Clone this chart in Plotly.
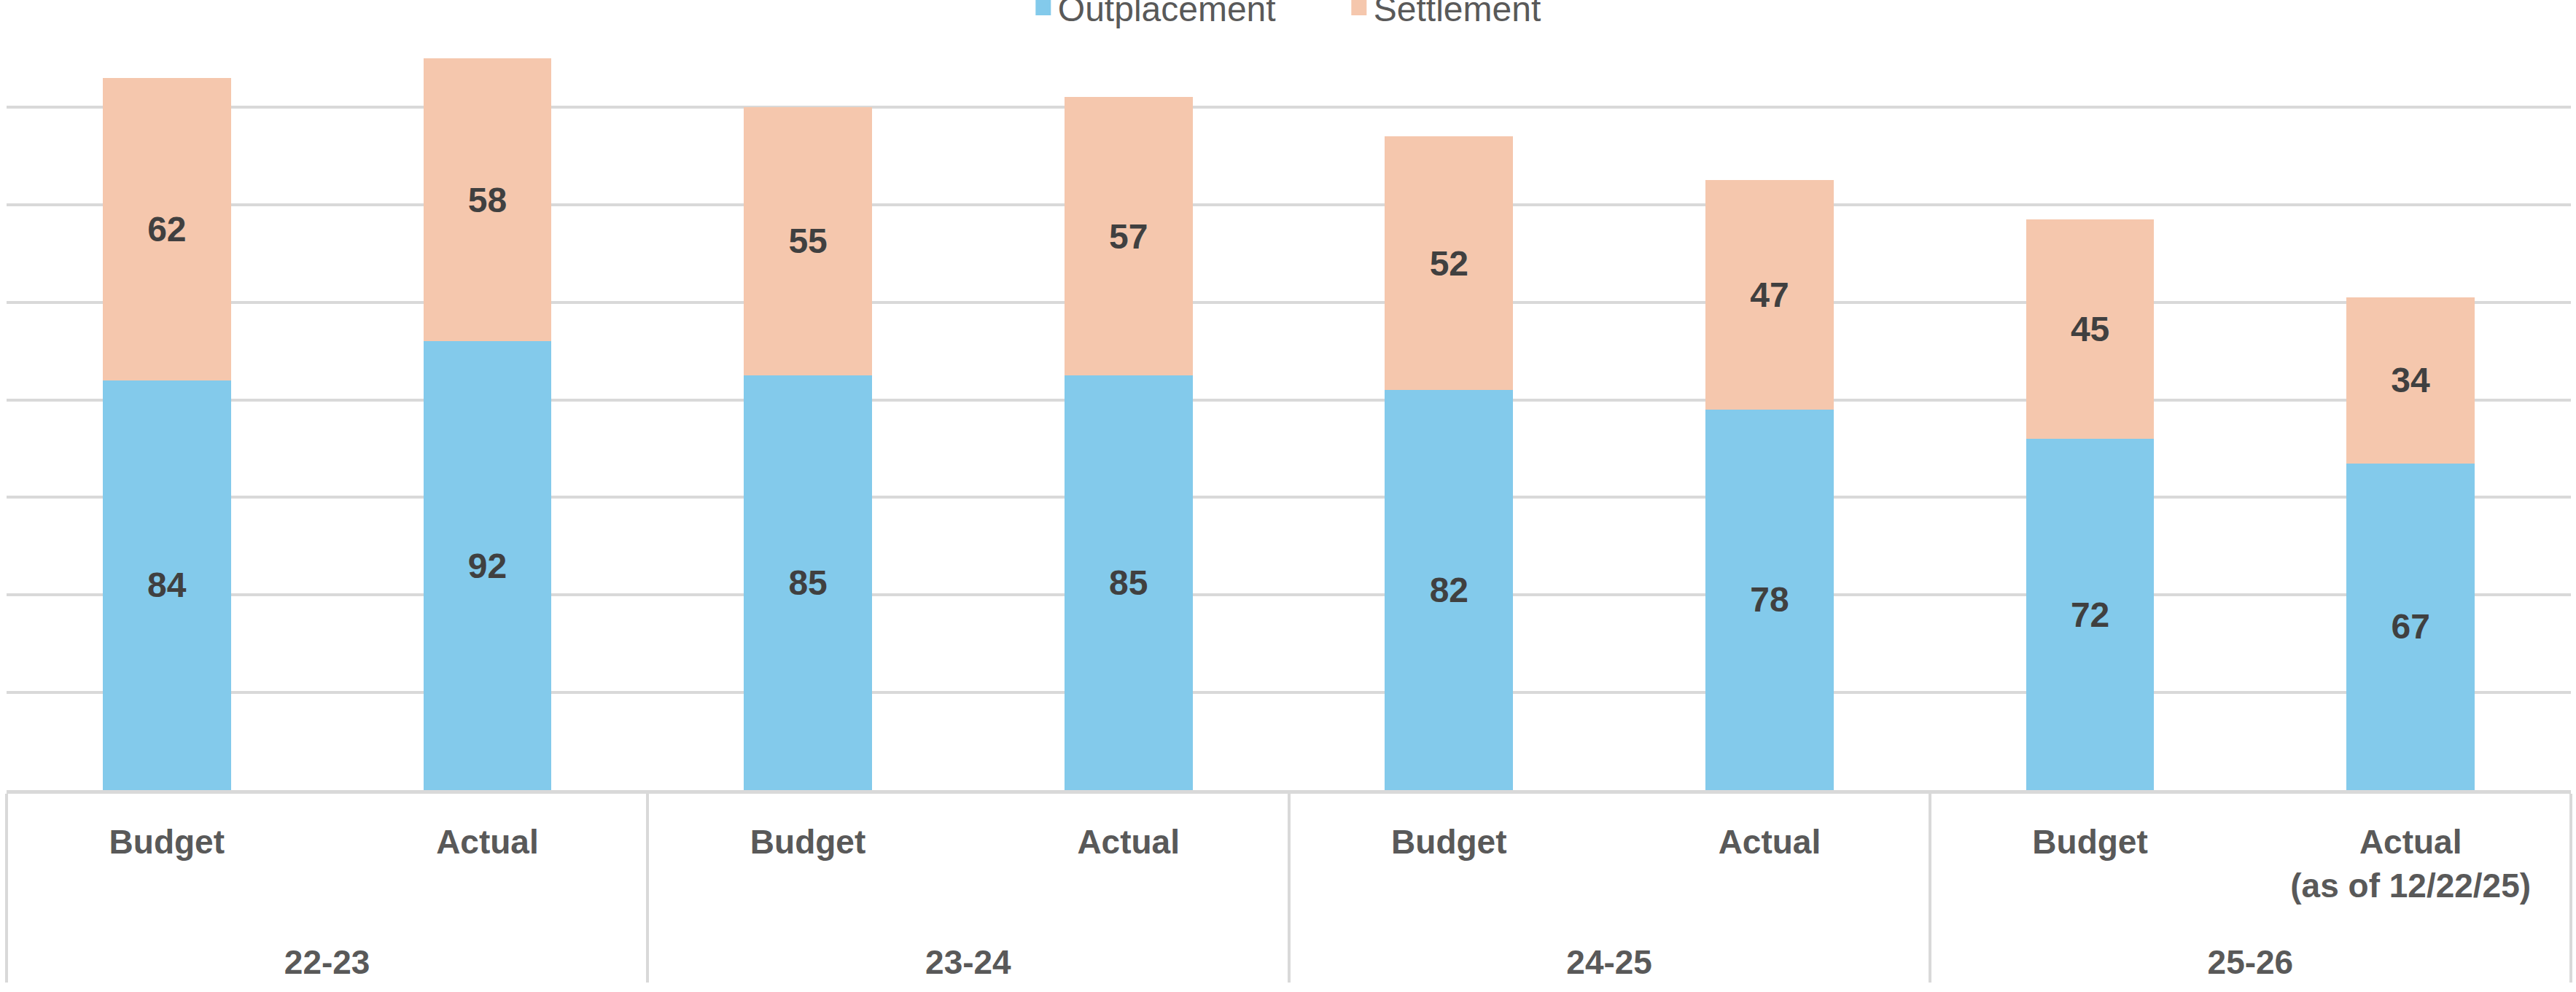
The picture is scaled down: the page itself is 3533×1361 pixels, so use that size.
import plotly.graph_objects as go

# ---- data ----
years = ["22-23", "22-23", "23-24", "23-24", "24-25", "24-25", "25-26", "25-26"]
kinds = ["Budget", "Actual", "Budget", "Actual", "Budget", "Actual", "Budget",
         "Actual<br>(as of 12/22/25)<br><span style='font-size:130px'>\u00a0</span>"]
outplacement = [84, 92, 85, 85, 82, 78, 72, 67]
settlement = [62, 58, 55, 57, 52, 47, 45, 34]
series_names = ["Outplacement", "Settlement"]
colors = ["#83CAEB", "#F5C7AD"]

FONT = "Liberation Sans, Arial, sans-serif"

fig = go.Figure()
for name, vals, col in zip(series_names, [outplacement, settlement], colors):
    fig.add_trace(go.Bar(
        x=[years, kinds], y=vals, name=name, marker=dict(color=col, line=dict(width=0)),
        texttemplate="%{y}", textposition="inside", insidetextanchor="middle",
        textangle=0,
        textfont=dict(family=FONT, size=48, color="#404040", weight="bold"),
        showlegend=False,
    ))
# legend-only entries (larger square swatches)
for name, col in zip(series_names, colors):
    fig.add_trace(go.Scatter(
        x=[None], y=[None], mode="markers", name=name,
        marker=dict(symbol="square", size=16, color=col, line=dict(color=col, width=5)),
        showlegend=True,
    ))

fig.update_layout(
    width=3533, height=1361,
    barmode="stack", bargap=0.6,
    paper_bgcolor="white", plot_bgcolor="white",
    margin=dict(l=9, r=7, t=13, b=277, autoexpand=False),
    legend=dict(orientation="h", x=0.5217, xanchor="center", y=1.002, yanchor="middle",
                traceorder="normal",
                font=dict(family=FONT, size=48, color="#595959"),
                bgcolor="rgba(0,0,0,0)", entrywidth=388, entrywidthmode="pixels"),
    font=dict(family=FONT),
)
fig.update_yaxes(range=[0, 160], dtick=20, showticklabels=False, showgrid=True,
                 gridcolor="#D9D9D9", gridwidth=4, zeroline=False, showline=False)
fig.update_xaxes(type="multicategory", showdividers=True, dividercolor="#D9D9D9",
                 dividerwidth=4, showline=True, linecolor="#D9D9D9", linewidth=5,
                 tickfont=dict(family=FONT, size=46, color="#595959", weight="bold"),
                 ticks="", ticklabelstandoff=27)

fig.write_html("out.html", config={"displayModeBar": False},
               post_script="document.body.style.margin='0';")
